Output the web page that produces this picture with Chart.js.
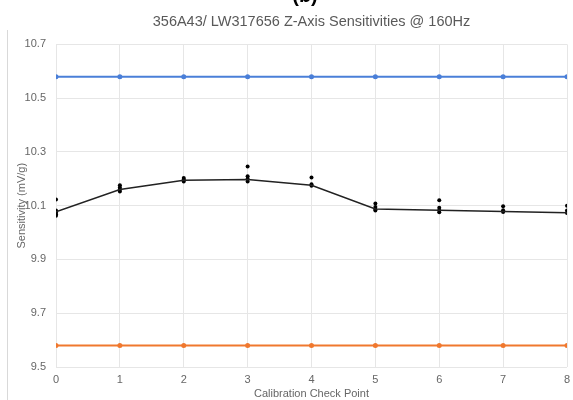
<!DOCTYPE html>
<html>
<head>
<meta charset="utf-8">
<script src="https://cdn.jsdelivr.net/npm/chart.js@4"></script>
<style>
  html, body { margin: 0; padding: 0; background: #fff; }
</style>
</head>
<body>
<canvas id="myChart" width="573" height="400"></canvas>
<script>
// calibration check points on the x axis
const checkPoints = [0, 1, 2, 3, 4, 5, 6, 7, 8];

// individual sensitivity readings at each check point (mV/g)
const readings = [
    [10.123, 10.082, 10.075, 10.068, 10.063],
    [10.176, 10.168, 10.160, 10.153],
    [10.203, 10.197, 10.190],
    [10.246, 10.210, 10.200, 10.190],
    [10.205, 10.180, 10.174],
    [10.108, 10.095, 10.086, 10.082],
    [10.120, 10.092, 10.083, 10.076],
    [10.098, 10.083, 10.077],
    [10.100, 10.082, 10.073],
];

// average of the readings, drawn as the line
const meanSensitivity = [10.077, 10.160, 10.195, 10.197, 10.176, 10.088, 10.083, 10.078, 10.074];

// tolerance limits
const upperLimit = 10.58;
const lowerLimit = 9.58;

const yTicks = [9.5, 9.7, 9.9, 10.1, 10.3, 10.5, 10.7];

const font = { family: "'Liberation Sans', Arial, sans-serif", size: 11 };

const scatterPoints = [];
readings.forEach((vals, i) => {
    vals.forEach(v => scatterPoints.push({ x: checkPoints[i], y: v }));
});

// panel letter and frame line at the left edge
const extras = {
    id: 'extras',
    afterDraw(chart) {
        const ctx = chart.ctx;
        ctx.save();
        ctx.strokeStyle = '#d9d9d9';
        ctx.lineWidth = 1;
        ctx.beginPath();
        ctx.moveTo(7.5, 30);
        ctx.lineTo(7.5, 400);
        ctx.stroke();
        ctx.fillStyle = '#000';
        ctx.font = "bold 20px 'Liberation Sans', Arial, sans-serif";
        ctx.textAlign = 'center';
        ctx.textBaseline = 'alphabetic';
        ctx.fillText('(b)', 305, 2);
        ctx.restore();
    }
};

const myChart = new Chart(document.getElementById('myChart'), {
    type: 'line',
    data: {
        datasets: [
            {
                label: 'Upper limit',
                data: checkPoints.map(x => ({ x: x, y: upperLimit })),
                borderColor: '#4a7fd8',
                backgroundColor: '#4a7fd8',
                borderWidth: 2,
                pointRadius: 1.5,
            },
            {
                label: 'Lower limit',
                data: checkPoints.map(x => ({ x: x, y: lowerLimit })),
                borderColor: '#f0782e',
                backgroundColor: '#f0782e',
                borderWidth: 2,
                pointRadius: 1.5,
            },
            {
                label: 'Average',
                data: checkPoints.map((x, i) => ({ x: x, y: meanSensitivity[i] })),
                borderColor: '#222',
                backgroundColor: '#222',
                borderWidth: 1.5,
                pointRadius: 0,
            },
            {
                label: 'Readings',
                type: 'scatter',
                data: scatterPoints,
                borderColor: '#000',
                backgroundColor: '#000',
                pointRadius: 2,
                borderWidth: 0,
            },
        ]
    },
    options: {
        responsive: false,
        animation: false,
        layout: { padding: { top: 0, right: 4, left: 15, bottom: 0 } },
        plugins: {
            legend: { display: false },
            tooltip: { enabled: false },
            title: {
                display: true,
                fullSize: false,
                text: '356A43/ LW317656 Z-Axis Sensitivities @ 160Hz',
                color: '#595959',
                font: { family: font.family, size: 14.5, weight: 'normal' },
                padding: { top: 13, bottom: 14 },
            }
        },
        scales: {
            x: {
                type: 'linear',
                min: 0,
                max: 8,
                ticks: { stepSize: 1, color: '#666', font: font, padding: 6 },
                grid: { color: '#e6e6e6', drawTicks: false },
                border: { display: false },
                title: {
                    display: true,
                    text: 'Calibration Check Point',
                    color: '#666',
                    font: font,
                    padding: { top: 0, bottom: -1 },
                },
                afterFit(scale) {
                    scale.height = 33;
                    scale.paddingLeft = 0;
                    scale.paddingRight = 0;
                }
            },
            y: {
                min: 9.5,
                max: 10.7,
                afterBuildTicks(scale) { scale.ticks = yTicks.map(v => ({ value: v })); },
                ticks: { color: '#666', font: font, padding: 10, autoSkip: false, callback: v => String(v) },
                grid: { color: '#e6e6e6', drawTicks: false },
                border: { display: false },
                title: {
                    display: true,
                    text: 'Sensitivity (mV/g)',
                    color: '#666',
                    font: font,
                    padding: 0,
                },
                afterFit(scale) { scale.width = 41; }
            }
        }
    },
    plugins: [extras]
});
</script>
</body>
</html>
